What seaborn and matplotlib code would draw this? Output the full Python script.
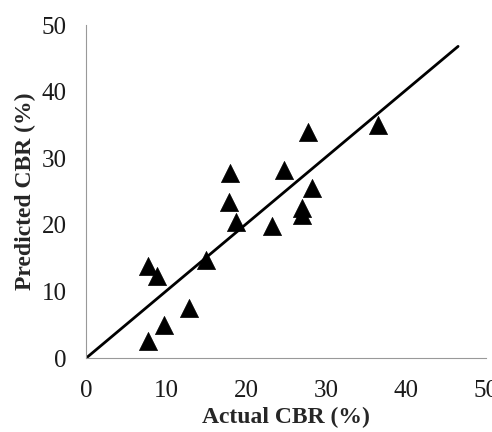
import pandas as pd
import seaborn as sns
import matplotlib.pyplot as plt

# Actual vs predicted CBR values
actual_cbr = [7.8, 9.8, 12.9, 7.8, 8.9, 15.0, 18.7, 17.9, 18.0, 23.3, 24.7, 27.7, 28.2, 27.0, 27.0, 36.5]
predicted_cbr = [2.5, 5.0, 7.5, 13.8, 12.3, 14.8, 20.5, 23.5, 27.8, 19.8, 28.3, 34.0, 25.5, 22.5, 21.5, 35.0]

# 1:1 line end points
line_x = [0, 46.5]
line_y = [0, 46.8]

ticks = [0, 10, 20, 30, 40, 50]

df = pd.DataFrame({'actual': actual_cbr, 'predicted': predicted_cbr})

sns.set_style('white')
plt.rcParams['font.family'] = ['Liberation Serif', 'DejaVu Serif']

fig = plt.figure(figsize=(4.92, 4.32), dpi=100)
ax = fig.add_axes([0.175, 0.171, 0.813, 0.771])

sns.lineplot(x=line_x, y=line_y, ax=ax, color='black', linewidth=2)
sns.scatterplot(data=df, x='actual', y='predicted', ax=ax, marker='^',
                color='black', s=170, edgecolor='black', linewidth=0.5)

ax.set_xlim(0, 50)
ax.set_ylim(0, 50)
ax.set_xticks(ticks)
ax.set_yticks(ticks)
ax.tick_params(axis='both', length=0, labelsize=18, colors='#1a1a1a')
ax.tick_params(axis='x', pad=16)
ax.tick_params(axis='y', pad=14)

sns.despine(ax=ax)
for side in ['left', 'bottom']:
    ax.spines[side].set_color('#999999')
    ax.spines[side].set_linewidth(0.8)

ax.set_xlabel('Actual CBR (%)', fontsize=17, fontweight='bold', labelpad=3)
ax.set_ylabel('Predicted CBR (%)', fontsize=17, fontweight='bold', labelpad=4)

fig.savefig('out.png', dpi=100)
